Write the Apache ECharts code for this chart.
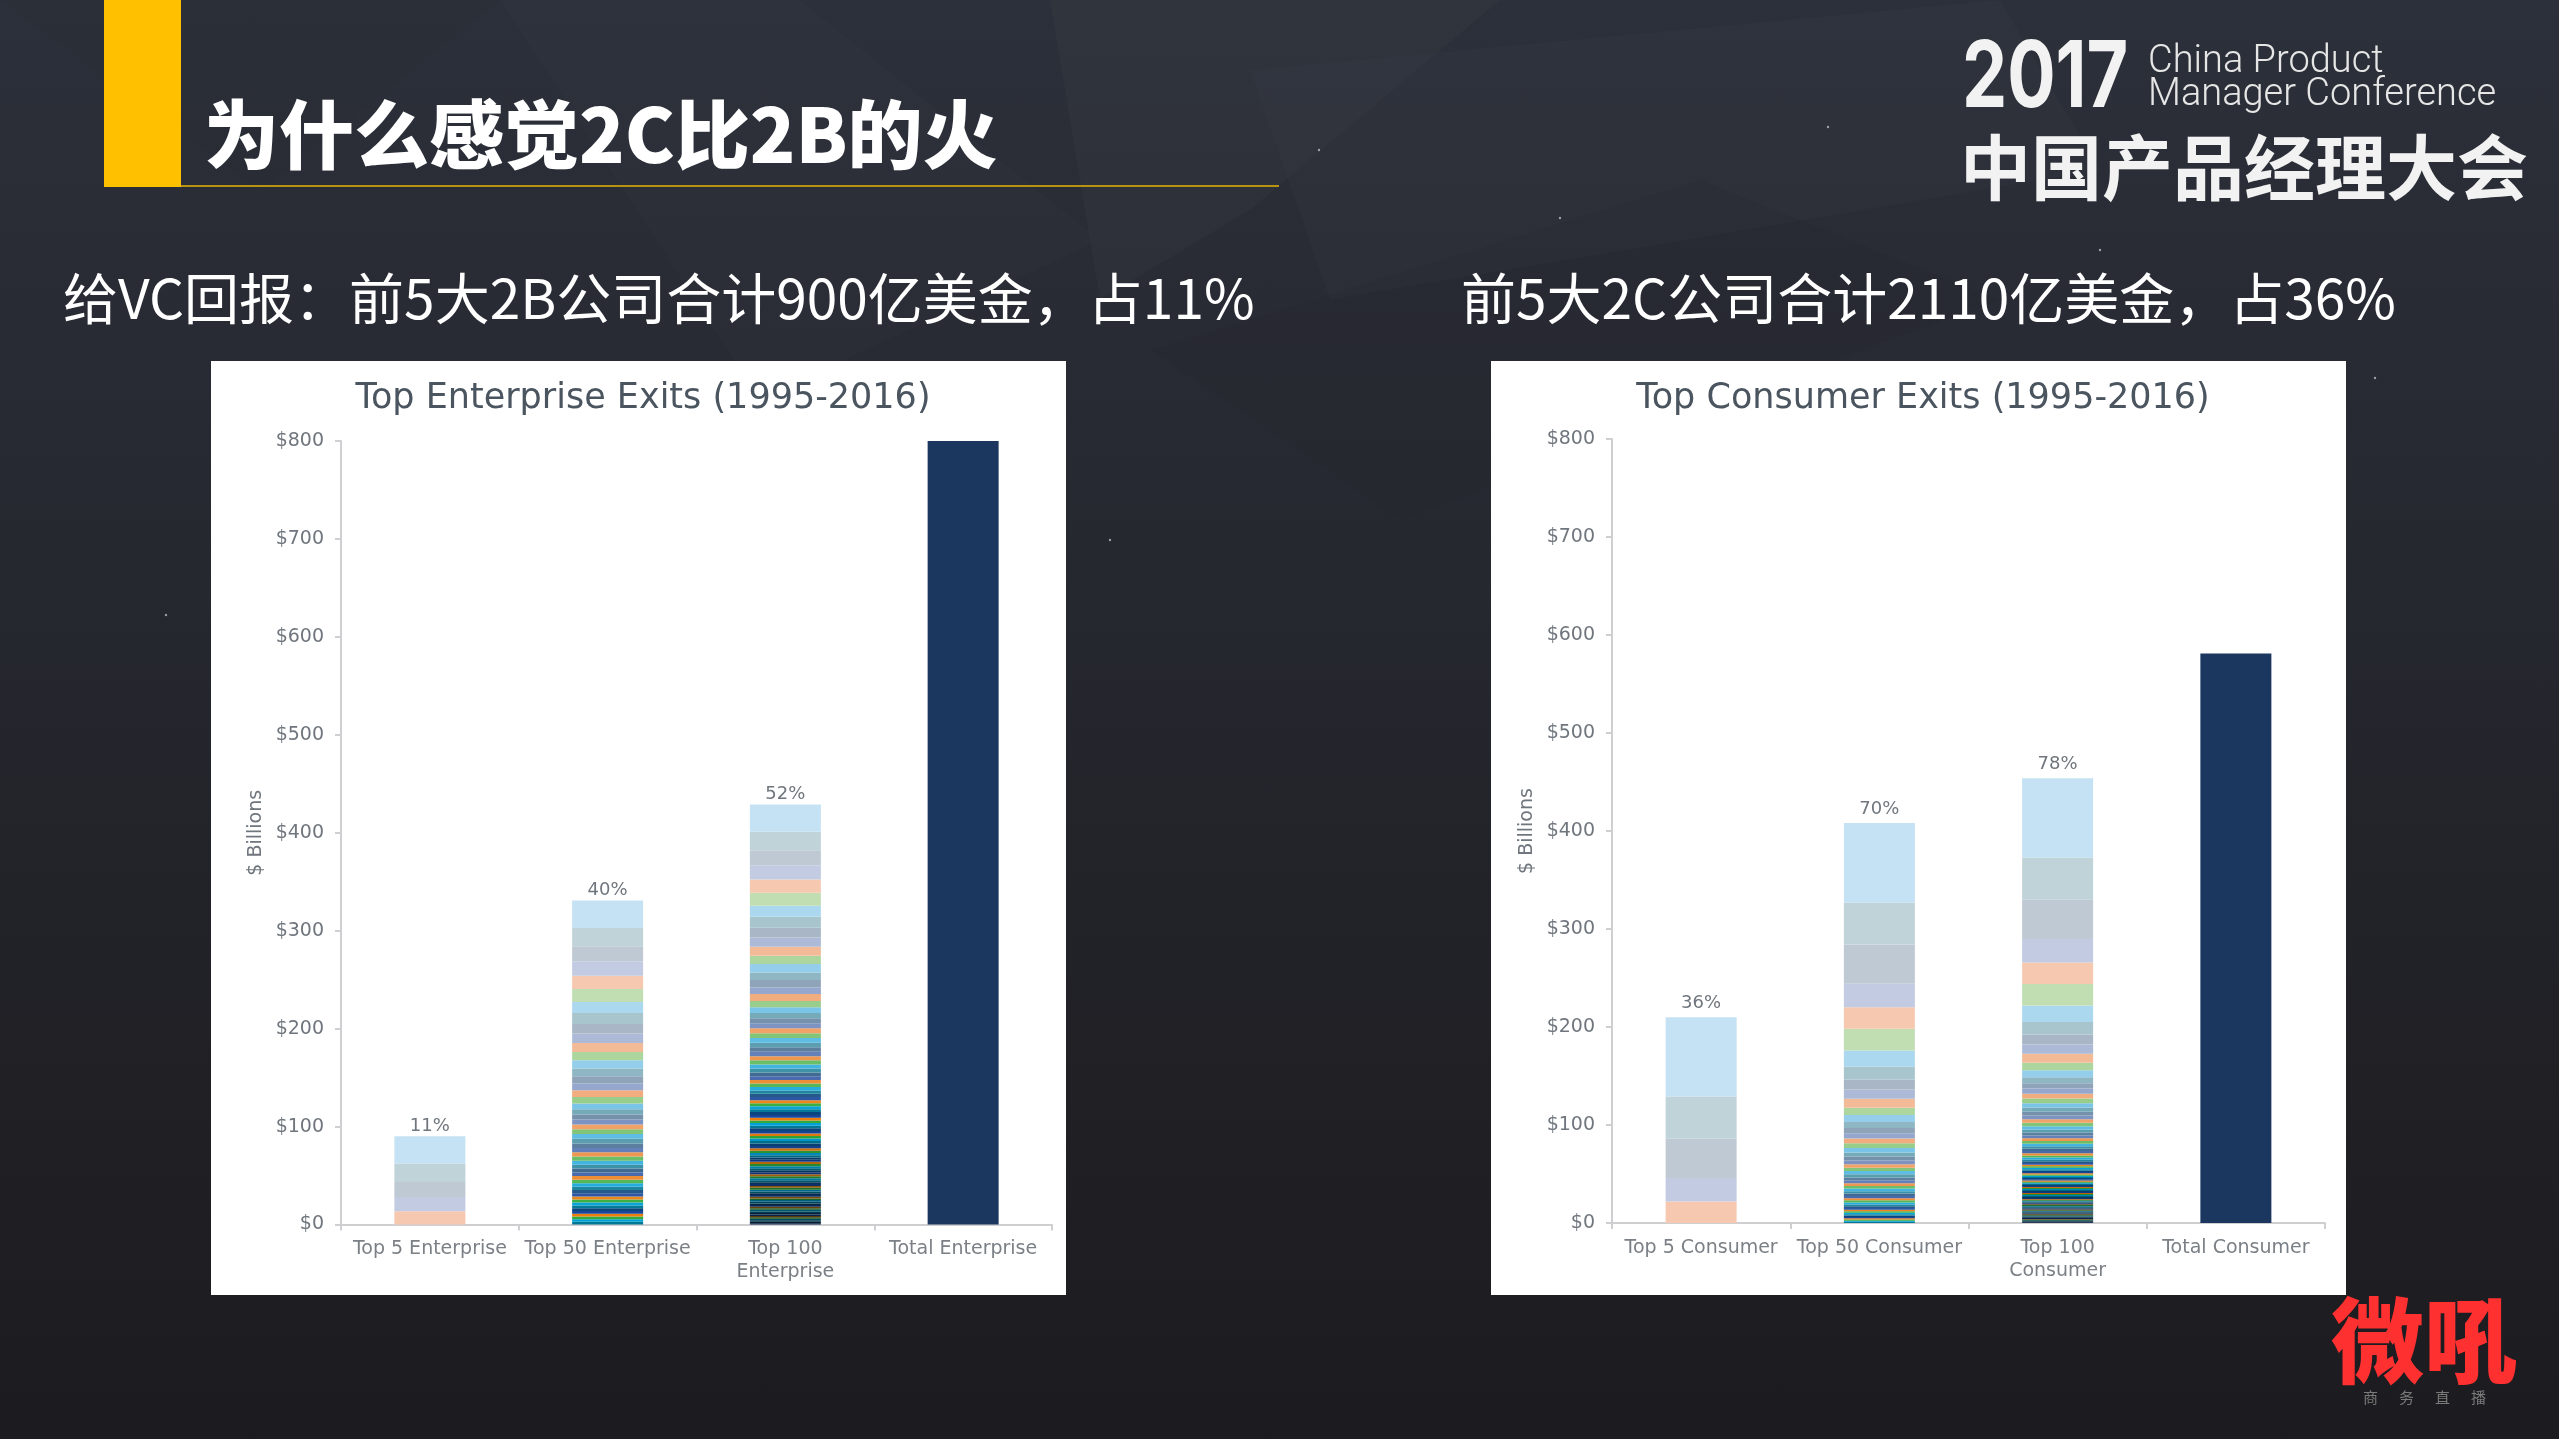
<!DOCTYPE html>
<html><head><meta charset="utf-8">
<style>html,body{margin:0;padding:0;width:2559px;height:1439px;overflow:hidden;background:linear-gradient(180deg,#2c303a 0%,#292c35 18%,#25272e 45%,#202025 75%,#1c1c20 100%);}#c{width:2559px;height:1439px;}</style>
<script src="https://cdn.jsdelivr.net/npm/echarts@6/dist/echarts.min.js"></script>
</head><body><div id="c"></div>
<script>
const enterpriseCategories = ['Top 5 Enterprise','Top 50 Enterprise','Top 100\nEnterprise','Total Enterprise'];
const consumerCategories = ['Top 5 Consumer','Top 50 Consumer','Top 100\nConsumer','Total Consumer'];
const enterprisePercents = ['11%','40%','52%',''];
const consumerPercents = ['36%','70%','78%',''];
const enterpriseTotal = 800;
const consumerTotal = 581;
// individual exits, largest first; the first 5, 50 and 100 make up the three stacked bars
const enterpriseExits = [28,18.7,15.3,14.6,13.6,13.3,11.2,11.2,9.9,9.5,9.2,8.5,8.5,7.8,7.5,6.8,7,6.5,5.8,5.4,5.2,5.1,4.9,
 4.9,4.8,4.7,4.6,4.5,4.3,4.2,4.1,4,3.9,3.8,3.7,3.6,3.5,3.4,3.3,3.2,3.1,3.1,3,2.9,2.9,2.8,2.8,2.7,2.7,2.7,
 2.7,2.6,2.6,2.6,2.5,2.5,2.5,2.4,2.4,2.4,2.3,2.3,2.2,2.2,2.2,2.2,2.1,2.1,2.1,2.1,2,2,2,2,1.9,1.9,1.9,1.9,1.8,1.8,
 1.8,1.8,1.8,1.7,1.7,1.7,1.7,1.6,1.6,1.6,1.6,1.6,1.5,1.5,1.5,1.5,1.5,1.5,1.4,1.4];
const consumerExits = [81,43,40,24,22,22,16.7,12.9,10.2,9.5,9.2,7.5,7.1,6.1,5.4,5.4,4.8,4.8,
 4.5,4.2,4,3.8,3.6,3.4,3.3,3.2,3,2.9,2.8,2.7,2.6,2.5,2.4,2.3,2.2,2.1,2,1.9,1.8,1.7,1.6,1.5,1.5,1.4,1.4,1.3,1.3,1.2,1.2,1.2,
 1.2,1.2,1.2,1.1,1.1,1.1,1.1,1.1,1.1,1,1,1,1,1,1,1,1,1,1,1,.9,.9,.9,.9,.9,.9,.9,.9,.9,.9,.9,.9,.8,.8,.8,.8,.8,.8,.8,.8,.8,.8,.8,.8,.7,.7,.7,.7,.7,.7];

const hues = [[37,148,211],[37,101,123],[45,76,110],[68,95,162],[226,87,20],[83,161,33]];
const deepHues = [[0,160,215],[0,120,150],[10,70,125],[25,70,155],[235,125,15],[50,170,60]];
function shade(i){
  const m = Math.min(1, i/40);
  const h = hues[i % 6].map((v,k) => v + (deepHues[i % 6][k] - v)*m);
  const a = Math.min(1, .27 + i*.73/44);
  const d = i < 48 ? 1 : 1 - (i-48)/52*.6;
  const c = h.map((v,k) => Math.round((255 - (255 - v)*a)*d*(k===0 ? 1-(1-d)*.35 : 1)));
  return 'rgb('+c.join(',')+')';
}
const axisColor = '#cfcfd2', tickText = '#70767d';
const font = '"DejaVu Sans", Inter, sans-serif';
function xAxis(cats, g, m){
  return {type:'category',gridIndex:g,data:cats,
    axisLine:{lineStyle:{color:axisColor,width:2}},
    axisTick:{show:true,length:6,alignWithLabel:false,lineStyle:{color:axisColor,width:2}},
    axisLabel:{color:'#7b8086',fontFamily:font,fontSize:19,lineHeight:23,margin:m,interval:0}};
}
function yAxis(g){
  return {type:'value',gridIndex:g,min:0,max:800,interval:100,
    name:'$ Billions',nameLocation:'middle',nameGap:75,nameRotate:90,
    nameTextStyle:{color:'#70767d',fontFamily:font,fontSize:19},
    splitLine:{show:false},
    axisLine:{show:true,lineStyle:{color:axisColor,width:2}},
    axisTick:{show:true,length:6,lineStyle:{color:axisColor,width:2}},
    axisLabel:{color:tickText,fontFamily:font,fontSize:19,margin:17,formatter:v=>'$'+v}};
}
function seriesFor(exits, total, pct, g, dist){
  const out = [];
  for(let i = exits.length-1; i >= 0; i--){
    out.push({type:'bar',xAxisIndex:g,yAxisIndex:g,stack:'s'+g,barWidth:71,silent:true,
      itemStyle:{color:shade(i)},
      data:[i<5?exits[i]:null,i<50?exits[i]:null,exits[i],null],
      label: i===0 ? {show:true,position:'top',distance:dist,color:'#70767d',fontFamily:font,fontSize:18,
        formatter:p=>pct[p.dataIndex]} : {show:false}});
  }
  out.push({type:'bar',xAxisIndex:g,yAxisIndex:g,stack:'s'+g,barWidth:71,silent:true,
    itemStyle:{color:'#1b365f'},data:[null,null,null,total]});
  return out;
}
const cjk = '"Noto Sans CJK SC", sans-serif';
function t(text,x,y,f,fill,extra){
  return Object.assign({type:'text',x,y,z:5,silent:true,style:{text,font:f,fill,textAlign:'left',textVerticalAlign:'middle',verticalAlign:'middle'}},extra||{});
}
function poly(pts,c){return {type:'polygon',z:-20,silent:true,shape:{points:pts},style:{fill:c}};}
const stars = [[1319,150],[1110,540],[166,615],[1560,218],[1828,127],[2375,378],[2100,250]];
const graphics = [
  poly([[500,0],[800,0],[1100,240],[760,400]],'rgba(255,255,255,.01)'),
  poly([[1050,0],[1500,0],[1250,210],[1100,300]],'rgba(255,255,255,.02)'),
  poly([[1250,70],[2000,0],[2100,170],[1330,300]],'rgba(255,255,255,.014)'),
  poly([[1150,350],[1700,180],[2000,300],[1400,520]],'rgba(0,0,0,.025)'),
  poly([[0,0],[500,0],[260,190]],'rgba(0,0,0,.02)'),
  {type:'rect',z:-10,silent:true,shape:{x:211,y:361,width:855,height:934},style:{fill:'#ffffff'}},
  {type:'rect',z:-10,silent:true,shape:{x:1491,y:361,width:855,height:934},style:{fill:'#ffffff'}},
  {type:'rect',z:1,silent:true,shape:{x:104,y:0,width:77,height:187},style:{fill:'#ffc000'}},
  {type:'rect',z:1,silent:true,shape:{x:181,y:185,width:1098,height:2},style:{fill:'#b8930f'}},
  t('为什么感觉2C比2B的火',204,134,'900 75px '+cjk,'#ffffff'),
  t('给VC回报：前5大2B公司合计900亿美金，占11%',63,298,'400 55px '+cjk,'#ffffff'),
  t('前5大2C公司合计2110亿美金，占36%',1461,298,'400 55px '+cjk,'#ffffff'),
  t('2017',1962,79,'700 92px Inter, sans-serif','#f2f2f2',{scaleX:.78}),
  t('China Product',2148,62,'300 38px Roboto, Inter, sans-serif','#e6e6e6'),
  t('Manager Conference',2148,95,'300 38px Roboto, Inter, sans-serif','#e6e6e6'),
  t('中国产品经理大会',1960,167,'700 71px '+cjk,'#f2f2f2'),
  t('微吼',2331,1341,'900 93px '+cjk,'#ff3030')
];
['商','务','直','播'].forEach((c,i)=>graphics.push(t(c,2363+i*36,1397,'400 15px '+cjk,'#7a7a7a')));
stars.forEach(s=>graphics.push({type:'circle',z:-5,silent:true,shape:{cx:s[0],cy:s[1],r:1.2},style:{fill:'rgba(255,255,255,.55)'}}));

const chart = echarts.init(document.getElementById('c'),null,{width:2559,height:1439});
chart.setOption({
  animation:false,backgroundColor:'transparent',
  title:[
    {text:'Top Enterprise Exits (1995-2016)',left:638,top:376,textAlign:'center',textStyle:{color:'#4b5560',fontFamily:font,fontWeight:400,fontSize:35}},
    {text:'Top Consumer Exits (1995-2016)',left:1918,top:376,textAlign:'center',textStyle:{color:'#4b5560',fontFamily:font,fontWeight:400,fontSize:35}}
  ],
  grid:[
    {left:341,width:711,top:441,height:783.5,containLabel:false},
    {left:1612,width:713,top:439,height:784,containLabel:false}
  ],
  xAxis:[xAxis(enterpriseCategories,0,13),xAxis(consumerCategories,1,14)],
  yAxis:[yAxis(0),yAxis(1)],
  series:seriesFor(enterpriseExits,enterpriseTotal,enterprisePercents,0,1).concat(seriesFor(consumerExits,consumerTotal,consumerPercents,1,5)),
  graphic:graphics
});
</script></body></html>
